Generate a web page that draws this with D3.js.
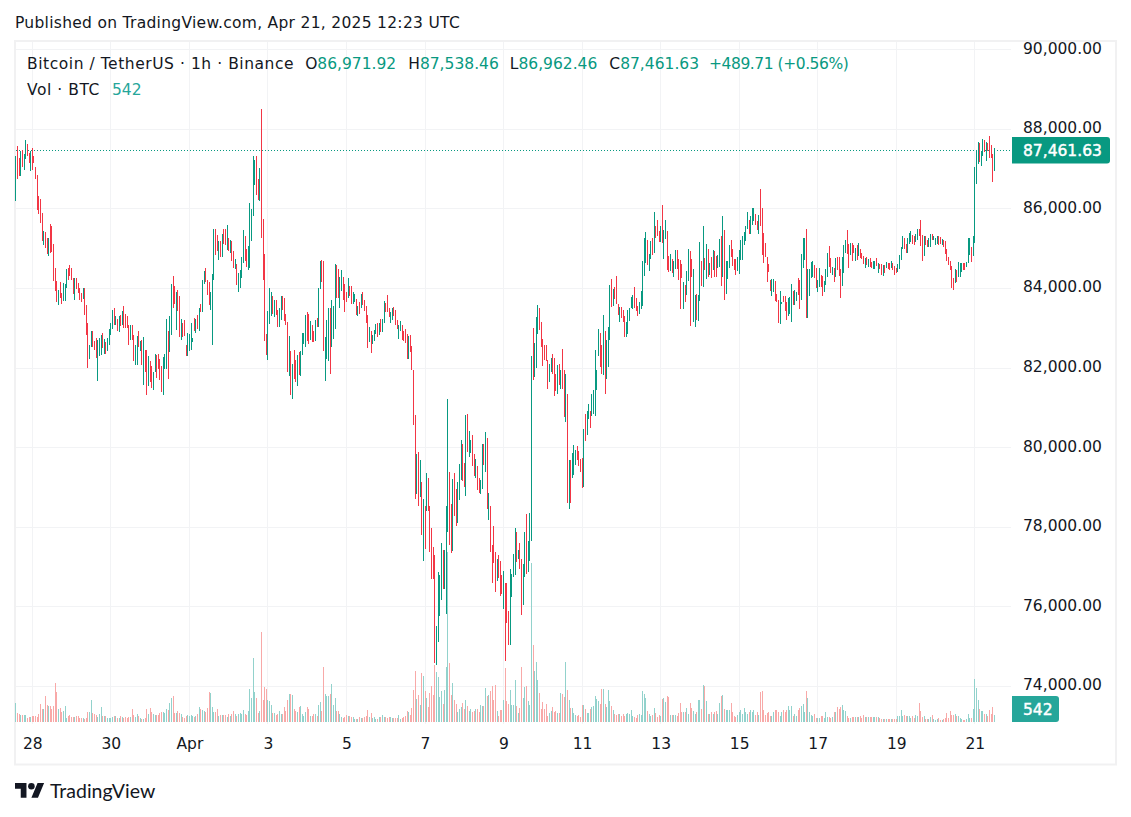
<!DOCTYPE html>
<meta charset="utf-8">
<title>BTCUSDT 1h</title>
<script src="https://d3js.org/d3.v7.min.js"></script>
<style>
  body { margin: 0; background: #fff; }
  text { font-family: "DejaVu Sans", sans-serif; fill: #131722; }
</style>
<div id="chart"></div>
<script>

// hourly bars, 2025-03-27 14:00 to 2025-04-21 12:00 UTC
const highs = [
87340,87590,87290,87450,87470,87370,87740,87620,87410,87450,87540,87340,87050,86860,86330,86260,85900,85440,85420,85270,85270,85610,85580,85120,84520,84180,83970,84160,83890,84140,84100,84480,84520,84600,84510,84260,84260,84260,84140,84010,83880,84010,84010,83590,83130,82590,82940,82940,82690,82750,82710,82750,82820,82880,82720,82660,82750,82990,83140,83450,83520,83310,83240,83310,83340,83430,83550,83360,83300,83090,83090,83090,82840,82590,82810,82920,82670,82710,82770,82450,82450,82290,82180,82040,81900,82340,82320,82360,82230,82040,82280,82340,83240,82930,83300,84100,84320,84060,83910,83950,83820,83220,83130,83200,
82580,82880,82850,83130,82750,83250,83240,83340,83500,83610,84220,84430,84510,84220,84170,83920,84370,85500,85500,85350,85200,85200,85360,85500,85500,85600,85260,85220,85200,84930,84740,84620,84380,84470,84780,85470,85320,84990,85070,86140,86000,87330,87230,87330,86750,87020,88510,85750,84870,82860,83440,84020,83920,83810,83710,83700,83450,83500,83800,83800,83770,83360,83150,82810,82420,82100,82460,82210,82330,82400,82430,82890,82880,83340,83400,83360,83190,83090,82920,83210,83250,84020,84680,84720,84690,82790,83210,83500,83520,83710,83560,84610,84590,84480,84300,84470,84290,84110,83910,84260,84050,84050,83900,83860,
83730,83560,83650,83860,83910,83700,83560,83330,83030,82930,82820,82950,83100,83140,83130,83220,83220,83680,83640,83830,83510,83410,83510,83540,83470,83200,83080,83180,83080,82930,82980,82850,82810,82820,82550,81960,
80810,79850,79880,79680,79130,78710,78530,79350,79240,78520,77990,77500,77310,75520,76870,76810,77590,77420,77430,78520,81220,79380,78580,79210,79350,78960,79140,79580,80200,80080,79620,80810,80850,80410,80200,80310,79850,79710,79530,79230,79180,80080,80100,80380,80250,78850,78530,77560,78020,77370,77210,77310,77160,76810,76890,76600,76600,75890,76940,76830,77330,77980,77880,77430,77590,77210,77080,77880,78340,77660,78350,82300,
83000,82620,83270,83580,83500,83150,82740,82590,82570,82210,82100,82240,82340,82240,81850,82070,82110,81950,82470,81950,81850,81340,79680,79680,79870,80060,79950,80030,79920,79720,79750,80460,80840,80910,81090,80910,81340,81440,82450,81950,82980,82890,82570,83330,82930,82700,83040,84080,84230,83980,84030,84310,83610,83540,83540,83460,83300,83160,83460,83500,83790,83830,84030,83770,83560,83650,83930,84690,85260,85410,85220,84860,85190,85260,85910,85570,85720,85440,85570,86100,85470,85720,85440,84810,84860,84750,84690,84960,84960,84750,
84720,84610,84170,84080,84450,84990,84950,84740,84480,83830,83870,83830,85160,84690,85560,84760,85120,84990,84630,84780,84970,84930,84820,84840,85250,85310,85810,85480,84680,84680,85100,85220,84990,84740,84740,84780,84970,85220,85330,85430,85560,85920,85730,85810,86010,86010,85860,85690,85840,86510,86010,85390,85140,84800,84610,84210,84240,84240,84190,83860,83700,83930,83660,83810,83810,83650,83770,83790,84110,83930,83970,83920,84260,84210,84870,85270,85270,85500,84490,84490,84660,84690,84590,84510,84210,84510,84340,84320,84190,84480,84890,85070,84760,84530,84510,84760,84780,84800,84480,84780,85100,85220,85480,85120,
85140,85140,85100,85010,85100,85140,84990,84890,84820,84760,84800,84730,84760,84660,84680,84680,84760,84630,84610,84610,84590,84590,84660,84650,84650,84690,84650,84570,84510,84610,84840,85050,85330,85270,85120,85270,85390,85450,85350,85310,85380,85500,85500,85710,85350,85330,85330,85220,85270,85380,85380,85330,85270,85330,85330,85290,85240,85210,85180,84990,84800,84680,84570,84270,84490,84460,84660,84630,84630,84630,84630,84670,85280,85270,85050,85310,87060,87460,87670,87650,87460,87750,87730,87670,87650,87840,87600,87380,87538
];
const lows = [
86210,86760,86820,86820,87040,86970,87250,87340,87150,86950,86970,87150,86760,85980,85860,85650,85190,85080,85020,84870,84820,84890,84910,84180,83930,83670,83590,83760,83620,83680,83680,84010,84200,84320,84220,83850,83720,83990,83880,83700,83670,83740,83340,82840,82000,82220,82530,82530,82460,82250,81670,82290,82320,82500,82340,82340,82420,82570,82840,82990,83070,83080,82940,82900,83050,83080,83000,83000,83000,82570,82710,82710,82180,82080,82070,82540,82420,82080,81580,81900,81320,81540,81650,81500,81440,81910,81760,81980,81710,81390,81330,81970,81970,81720,82400,82840,83520,83620,82950,83430,82770,82710,82780,82800,
82290,82290,82430,82460,82650,82940,82890,82990,82920,83400,83420,84120,84170,83840,83590,83450,82570,84200,84830,84930,84720,84800,84800,85110,85090,84970,84950,84890,84680,84520,84480,84090,83920,84020,84270,84650,84680,84550,84470,84510,85200,85830,86600,86350,86220,86200,85260,84220,82680,82330,82190,83110,83300,83350,83270,83340,83020,83020,83210,83460,83170,83070,81910,81810,81330,81230,81730,81640,81560,81830,81810,82330,82600,82540,82670,82600,82710,82650,82650,82670,83040,83040,83990,84150,82430,81680,82230,82180,81860,82520,82730,82990,83770,83770,83500,83940,83710,83420,83650,83770,83820,83610,83610,83650,
83330,83300,83350,83500,83580,83440,83140,82510,82660,82380,82600,82680,82850,82770,82830,82910,82910,83140,83410,83410,83290,83140,83200,83300,83080,82990,82720,82930,82700,82680,82640,82220,82220,82390,81940,80560,
78710,78840,78540,78750,77810,77160,77440,78410,78410,77370,76690,76690,74580,74540,75120,75770,76170,76440,76440,75810,77880,77540,77340,77410,78290,78040,78100,78690,79180,79160,79020,78780,79890,79770,79870,79540,79280,79240,78930,78870,78830,78960,79560,79390,78460,78180,77370,76590,77090,76370,76640,76730,76270,76310,75940,74640,75590,75040,75040,76240,76740,76810,77120,77190,76960,75790,76040,76740,76830,76880,77160,77650,
81690,81780,82000,82850,82950,82530,82050,82210,82180,81470,81640,81910,81860,81300,81420,81340,81570,81480,81470,80770,80640,78610,78450,78610,79240,79300,79560,79680,79530,79390,78980,79010,80170,80310,80710,80500,80800,80840,80800,81440,82310,82030,81840,81820,81340,81720,82030,82700,83540,83560,83730,83620,83330,83160,83260,83160,82780,82780,82850,83180,83500,83490,83500,83430,83300,83350,83490,83560,84310,84630,84590,84440,84740,84840,84880,85260,85320,85170,85170,85130,84740,85240,84460,84420,84440,84380,84290,84500,84500,84210,
83480,84250,83480,83660,83830,84190,83050,84300,83160,83030,83200,83180,83690,84060,84040,84460,84230,84300,84340,84250,84460,84280,84300,84510,84530,84060,84300,83700,83860,84240,84510,84780,84570,84460,84350,84450,84360,84720,84720,85080,85180,85490,85380,85380,85600,85690,85600,85460,85380,85560,84840,84650,84800,84170,84420,83940,83810,83920,83690,83660,83130,83100,83600,83650,83430,83200,83300,83370,83160,83580,83580,83690,83830,83490,83700,84510,84720,83260,83260,83810,84250,84280,84250,84000,83920,84040,84030,83810,83900,84090,84300,84530,84380,84350,84170,84300,84460,84310,83750,84060,84400,84890,84870,84520,
84840,84690,84890,84700,84720,84820,84760,84730,84620,84510,84590,84550,84550,84510,84490,84490,84570,84380,84480,84350,84320,84400,84510,84490,84460,84510,84460,84340,84380,84420,84480,84720,84990,85000,84890,84890,85120,85160,85120,85100,85160,85220,85310,85070,84700,84820,85100,85050,85040,85050,85220,85220,85080,85120,85100,85120,85100,85050,84870,84700,84590,84460,84020,83960,84140,84170,84280,84300,84420,84460,84460,84550,84630,84840,84670,84820,85140,86620,87140,87170,87080,87330,87420,87210,87460,87290,87270,86680,86962
];
// direction of each bar: G closed up, R closed down
const dirs = (
"GRRGRGGRRGRRRRRRRGRRGRRRRRGRRGGGRRRRGRRRRGRRRGGRRRGGGRGRGGGGRGRGRGRRRRGRRGGRGRGRRGRRGGRRRRGGGRGGRRGRRGRR" +
"RGGGGRGRGRGGRRRGGGRRGRGRRGRGRRGRGGGGRRGGGGGRRGRRRRGGGRGRRGGRRRRGRGRRGRGGGGRRGRRGRGGRRGGGRGGGRRGGRRRGRRGG" +
"RGRGRRRRGRGGGRGRGGRRRGGRRRGGRRRRGRRR" +
"RGRGRGRGRRRRRGGGGRGGGRRGRRGGGRRGRGGRRGRRGGRGRGRRRRGRRRGRRRGGGGRGRRGGRGGG" +
"RGGGRRRRRRGGRRRGRGRRGRGRGGGRRRRGRGGRGGGGGRRGRGGGRGRRRGRRRGGGGGRRRGGGGGRGGRGRRRGRGGRRGRGGRR" +
"RRGRGGRRGGRGGRGRGRGRGRRGGRGRGGGRRRRGGGGGGGRGGGRRGRRRRRRRGGRRRGGRRRGGGRGGRRGGGRGGGGRRGGRRGGGRRGRGRRRGGGRR" +
"GRRGRGRRRGRGRRGGRGRRGRGRRGRRRGGGGRRGGGRRGGRRRGRRGGRGGGRRGRRRRRRRGRGGGRRGGGRGGGGRGGRGRRRRG"
).split("");
const volumes = [
1425,675,575,500,500,500,500,300,375,375,425,450,475,375,575,1325,950,950,1950,1250,
1175,1175,1000,1200,2925,2250,1000,1050,750,800,1175,325,425,500,400,350,375,425,425,325,
300,325,250,325,725,750,1625,675,625,500,400,575,1125,425,425,425,300,300,300,400,
425,425,300,325,425,375,325,350,325,350,350,950,500,375,575,425,325,250,250,275,
950,575,1050,725,625,525,525,550,675,725,775,675,950,875,1425,1800,1925,
675,675,800,675,625,350,275,475,500,475,500,475,375,425,575,1125,950,875,825,725,
1025,2225,2175,1125,725,750,950,425,525,525,525,500,375,600,450,625,800,575,425,575,
675,575,875,575,525,825,2450,1825,4775,2250,1800,675,800,6750,
1625,2625,2450,1625,1550,1250,675,675,500,575,800,575,575,1125,800,1625,2075,2075,2000,950,
825,750,1125,1200,575,425,750,1125,950,425,425,625,575,425,1250,1475,800,4125,
2075,1950,1925,2075,2825,1250,1800,800,825,575,375,300,375,500,425,475,
350,375,250,200,250,350,325,300,375,450,875,350,675,300,375,225,250,375,
400,500,400,400,300,350,350,300,325,275,325,525,250,325,375,450,825,750,525,1050,
2400,3825,1725,2025,1275,3700,3475,2325,1800,1125,2200,2700,2025,4275,3775,3400,1900,2325,1350,2400,
4150,12750,4450,2025,2950,1650,1350,775,975,1100,1400,975,1650,1200,825,975,725,825,975,975,
775,1275,1200,1200,2575,1950,2000,2325,2700,1650,2775,825,450,900,900,1650,4075,1575,1350,2400,
1275,1275,3150,1200,675,1050,4150,1800,2625,2700,1575,1275,11925,5775,3825,4500,3150,2175,975,1475,
975,1350,450,650,825,1100,725,825,700,650,2200,2100,1900,4500,2400,1650,1025,1025,700,525,
450,525,400,1275,1275,950,700,700,975,1125,1200,1950,1725,1575,1350,2475,2475,1350,1125,2400,
1575,1200,900,600,525,600,600,450,600,450,600,650,600,900,450,350,325,500,600,550,
2325,2100,1800,825,600,450,525,1050,650,350,525,450,1725,1800,1500,1950,1875,525,525,525,
525,450,650,1425,750,750,750,1050,600,1425,1050,825,600,750,1650,1650,975,2775,2700,1575,
600,600,750,600,750,825,600,1425,1950,2025,975,900,900,900,1425,750,450,375,525,750,
900,600,1050,750,600,750,900,750,900,525,750,525,2250,2325,900,525,700,750,450,450,
750,900,900,750,450,750,900,750,900,1200,900,1200,450,600,450,900,1050,1200,1350,750,
2325,1800,750,525,450,600,300,300,300,450,450,300,750,375,375,300,375,750,750,1100,
975,1100,1275,900,825,450,300,300,375,375,375,375,375,450,300,525,375,375,375,375,
375,375,375,375,375,300,225,225,225,225,225,225,225,225,225,225,450,450,900,450,
525,450,450,450,300,450,300,525,450,1425,825,375,450,225,225,225,375,525,225,175,250,300,
175,175,200,325,675,300,800,500,500,575,425,425,325,250,175,175,200,625,325,325,1000,
3200,2525,1625,950,800,800,575,625,475,925,575,1100,542
];

const priceTicks = [74000, 76000, 78000, 80000, 82000, 84000, 86000, 88000, 90000];
const dayTicks = ["2025-03-28", "2025-03-30", "2025-04-01", "2025-04-03", "2025-04-05", "2025-04-07", "2025-04-09",
  "2025-04-11", "2025-04-13", "2025-04-15", "2025-04-17", "2025-04-19", "2025-04-21"].map(d => new Date(d + "T00:00:00Z"));
const dayLabels = ["28", "30", "Apr", "3", "5", "7", "9", "11", "13", "15", "17", "19", "21"];

const lastClose = 87461.63;
const lastVolume = 542;
const ohlcNames = ["O", "H", "L", "C"];
const ohlcValues = ["86,971.92", "87,538.46", "86,962.46", "87,461.63"];

const UP = "#089981", DOWN = "#f23645", VOL_UP = "#92d2cc", VOL_DOWN = "#f8a9a8", VOL_TAG = "#26a69a";
const GRID = "#f2f3f5", FRAME = "#f1f1f2";

const width = 1131, height = 817;
const plotLeft = 16, plotRight = 1011, plotTop = 42, plotBottom = 724;

const svg = d3.select("#chart").append("svg")
    .attr("width", width)
    .attr("height", height)
    .style("display", "block");

// scales
const times = d3.utcHour.range(new Date("2025-03-27T14:00:00Z"), new Date("2025-04-21T13:00:00Z"));
const x = d3.scaleUtc()
    .domain([times[0], times[times.length - 1]])
    .range([15.94, 994.45]);
const y = d3.scaleLinear()
    .domain([74000, 88000])
    .range([686.3, 129.3]);
const yVol = d3.scaleLinear()
    .domain([0, 7500])
    .range([722, 622]);

const snap = v => Math.floor(v) + 0.5;

svg.append("rect")
    .attr("x", 15).attr("y", 41)
    .attr("width", 1101).attr("height", 723.5)
    .attr("fill", "none")
    .attr("stroke", FRAME)
    .attr("stroke-width", 2);

// gridlines
svg.append("g").selectAll("line")
  .data(priceTicks)
  .join("line")
    .attr("x1", plotLeft).attr("x2", plotRight)
    .attr("y1", d => snap(y(d))).attr("y2", d => snap(y(d)))
    .attr("stroke", GRID);
svg.append("g").selectAll("line")
  .data(dayTicks)
  .join("line")
    .attr("x1", d => snap(x(d))).attr("x2", d => snap(x(d)))
    .attr("y1", plotTop).attr("y2", plotBottom)
    .attr("stroke", GRID);

// volume
svg.append("g").selectAll("rect")
  .data(volumes)
  .join("rect")
    .attr("shape-rendering", "crispEdges")
    .attr("x", (d, i) => Math.floor(x(times[i])))
    .attr("width", 1)
    .attr("y", d => yVol(d))
    .attr("height", d => yVol(0) - yVol(d))
    .attr("fill", (d, i) => dirs[i] === "G" ? VOL_UP : VOL_DOWN);

// last price line
svg.append("line")
    .attr("x1", plotLeft).attr("x2", plotRight)
    .attr("y1", snap(y(lastClose))).attr("y2", snap(y(lastClose)))
    .attr("stroke", UP)
    .attr("stroke-dasharray", "1,2");

// candles, at this zoom each one is a single pixel wide
svg.append("g").selectAll("line")
  .data(highs)
  .join("line")
    .attr("shape-rendering", "crispEdges")
    .attr("x1", (d, i) => snap(x(times[i])))
    .attr("x2", (d, i) => snap(x(times[i])))
    .attr("y1", d => y(d))
    .attr("y2", (d, i) => y(lows[i]))
    .attr("stroke", (d, i) => dirs[i] === "G" ? UP : DOWN);

// axes
const yAxis = svg.append("g")
    .attr("transform", "translate(1023,-1.5)")
    .call(d3.axisRight(y).tickValues(priceTicks).tickFormat(d3.format(",.2f")).tickSize(0).tickPadding(0));
yAxis.select(".domain").remove();
yAxis.selectAll("text").style("font-size", "15.5px").style("font-family", '"DejaVu Sans"').attr("fill", "#131722");

const xAxis = svg.append("g")
    .attr("transform", "translate(0,738)")
    .call(d3.axisBottom(x).tickValues(dayTicks).tickFormat((d, i) => dayLabels[i]).tickSize(0).tickPadding(0));
xAxis.select(".domain").remove();
xAxis.selectAll("text").style("font-size", "15.5px").style("font-family", '"DejaVu Sans"').attr("fill", "#131722");

// price tags
function tag(top, bottom, right, color, label) {
  svg.append("path")
      .attr("d", `M1012,${top}H${right - 3}Q${right},${top} ${right},${top + 3}V${bottom - 3}Q${right},${bottom} ${right - 3},${bottom}H1012Z`)
      .attr("fill", color);
  svg.append("text")
      .attr("x", 1023).attr("y", (top + bottom) / 2 + 5.5)
      .style("font-size", "15.5px")
      .style("fill", "#fff")
      .style("stroke", "#fff")
      .style("stroke-width", 0.45)
      .text(label);
}
tag(137, 163.5, 1110, UP, d3.format(",.2f")(lastClose));
tag(696, 722, 1059, VOL_TAG, lastVolume);

// title and legend
svg.append("text")
    .attr("x", 15).attr("y", 28)
    .style("font-size", "15.5px")
    .style("letter-spacing", "0.29px")
    .text("Published on TradingView.com, Apr 21, 2025 12:23 UTC");

const legend = svg.append("text")
    .attr("x", 27).attr("y", 69)
    .style("font-size", "15.5px");
legend.append("tspan").style("letter-spacing", "0.55px").text("Bitcoin / TetherUS · 1h · Binance");
ohlcNames.forEach((n, i) => {
  legend.append("tspan").attr("dx", i % 2 ? 12 : 11).text(n);
  legend.append("tspan").style("fill", UP).text(ohlcValues[i]);
});
legend.append("tspan").attr("dx", 10)
    .style("fill", UP)
    .style("letter-spacing", "-0.45px")
    .text("+489.71 (+0.56%)");

const legendVol = svg.append("text")
    .attr("x", 27).attr("y", 95)
    .style("font-size", "15.5px");
legendVol.append("tspan").style("letter-spacing", "0.55px").text("Vol · BTC");
legendVol.append("tspan").attr("dx", 12).style("fill", VOL_TAG).text(lastVolume);

// logo
const logo = svg.append("g").attr("transform", "translate(15,779.7) scale(0.82)");
logo.append("path").attr("d", "M14 22H7V11H0V4h14v18zM28 22h-8l7.5-18h8L28 22z").attr("fill", "#131722");
logo.append("circle").attr("cx", 20).attr("cy", 8).attr("r", 4).attr("fill", "#131722");
svg.append("text")
    .attr("x", 50).attr("y", 798)
    .style("font-family", '"Lato"')
    .style("font-size", "19.5px")
    .text("TradingView");
</script>
